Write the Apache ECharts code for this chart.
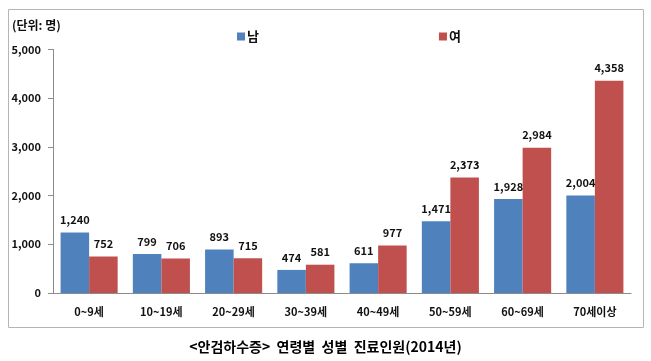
<!DOCTYPE html>
<html><head><meta charset="utf-8">
<script src="https://cdn.jsdelivr.net/npm/echarts@6/dist/echarts.min.js"></script>
<style>html,body{margin:0;padding:0;background:#fff}#c{width:651px;height:361px}</style>
</head><body><div id="c"></div>
<script>
const categories = ['0~9세','10~19세','20~29세','30~39세','40~49세','50~59세','60~69세','70세이상'];
const male = [1240, 799, 893, 474, 611, 1471, 1928, 2004];
const female = [752, 706, 715, 581, 977, 2373, 2984, 4358];
const seriesNames = ['남','여'];
const yTicks = [0, 1000, 2000, 3000, 4000, 5000];
const unitText = '(단위: 명)';
const titleText = '<안검하수증>  연령별  성별  진료인원(2014년)';

const FONT = '"Noto Sans CJK KR", "Noto Sans", sans-serif';
const chart = echarts.init(document.getElementById('c'));
const fmt = v => v.toLocaleString('en-US');
chart.setOption({
  animation: false,
  textStyle: {fontFamily: FONT},
  title: {
    text: titleText, left: 'center', top: 335,
    textStyle: {fontFamily: FONT, fontSize: 14, fontWeight: 'bold', color: '#000'}
  },
  graphic: [
    {type: 'rect', shape: {x: 8.5, y: 9.5, width: 635, height: 318},
     style: {fill: 'none', stroke: '#b5b5b5', lineWidth: 1}, silent: true},
    {type: 'text', left: 12, top: 19,
     style: {text: unitText, font: 'bold 12px ' + FONT, fill: '#111'}}
  ],
  legend: {
    data: seriesNames, left: 232, top: 25, itemWidth: 8, itemHeight: 8, itemGap: 180,
    icon: 'rect',
    textStyle: {fontFamily: FONT, fontSize: 13, fontWeight: 'bold', color: '#111', padding: [0,0,0,-3]}
  },
  grid: {left: 53, right: 20, top: 49.5, bottom: 68, containLabel: false},
  xAxis: {
    type: 'category', data: categories,
    axisLine: {lineStyle: {color: '#8c8c8c'}},
    axisTick: {length: 5, lineStyle: {color: '#8c8c8c'}},
    axisLabel: {fontFamily: FONT, fontSize: 11, fontWeight: 'bold', color: '#111', margin: 13}
  },
  yAxis: {
    type: 'value', min: yTicks[0], max: yTicks[yTicks.length-1], interval: 1000,
    splitLine: {show: false},
    axisLine: {show: true, lineStyle: {color: '#8c8c8c'}},
    axisTick: {show: true, length: 5, lineStyle: {color: '#8c8c8c'}},
    axisLabel: {fontFamily: FONT, fontSize: 11, fontWeight: 'bold', color: '#111', margin: 12,
      formatter: v => fmt(v)}
  },
  series: [
    {name: seriesNames[0], type: 'bar', data: male, barGap: '0%', barCategoryGap: '21%',
     itemStyle: {color: '#4F81BD'},
     label: {show: true, position: 'top', distance: 7, fontFamily: FONT, fontSize: 11, fontWeight: 'bold', color: '#111', formatter: p => fmt(p.value)}},
    {name: seriesNames[1], type: 'bar', data: female, barGap: '0%', barCategoryGap: '21%',
     itemStyle: {color: '#C0504D'},
     label: {show: true, position: 'top', distance: 7, fontFamily: FONT, fontSize: 11, fontWeight: 'bold', color: '#111', formatter: p => fmt(p.value)}}
  ]
});
</script></body></html>
